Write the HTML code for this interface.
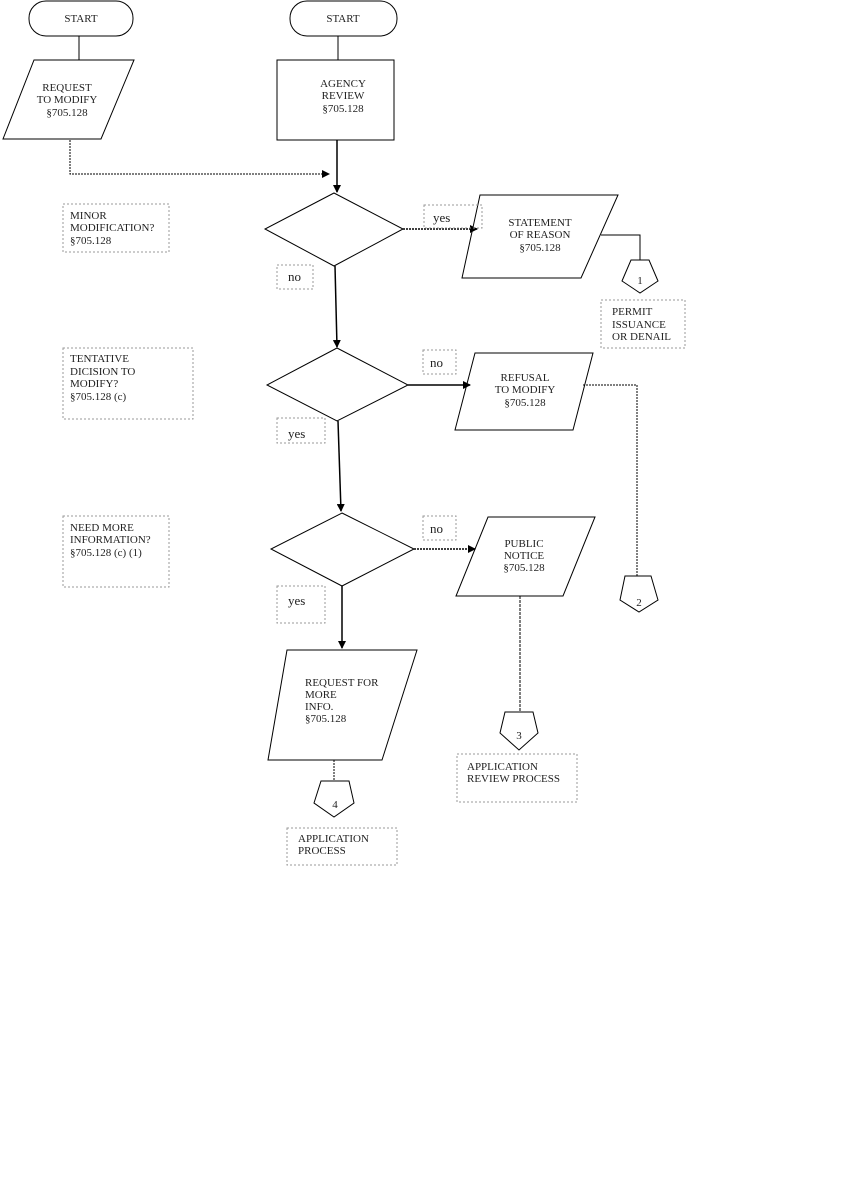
<!DOCTYPE html>
<html><head><meta charset="utf-8"><style>
html,body{margin:0;padding:0;background:#fff}
svg{display:block}
text{font-family:"Liberation Serif",serif;font-size:11px;fill:#222}
.b{font-size:13px}
</style></head><body>
<svg width="853" height="1190" viewBox="0 0 853 1190">
<defs><marker id="a" markerWidth="8" markerHeight="8" refX="7" refY="4" orient="auto" markerUnits="userSpaceOnUse"><path d="M0,0 L8,4 L0,8 z" fill="#000"/></marker></defs>
<g fill="none" stroke="#000" stroke-width="1">
<rect x="29" y="1" width="104" height="35" rx="17"/>
<rect x="290" y="1" width="107" height="35" rx="17"/>
<line x1="79" y1="36" x2="79" y2="60"/>
<line x1="338" y1="36" x2="338" y2="60"/>
<polygon points="34,60 134,60 101,139 3,139"/>
<rect x="277" y="60" width="117" height="80"/>
<polyline points="70,140 70,174 329,174" stroke-dasharray="2,1" marker-end="url(#a)"/>
<line x1="337" y1="140" x2="337" y2="192" stroke-width="1.5" marker-end="url(#a)"/>
<polygon points="334,193 403,229 334,266 265,229"/>
<line x1="403" y1="229" x2="477" y2="229" stroke-width="1.5" stroke-dasharray="2,1" marker-end="url(#a)"/>
<polygon points="480,195 618,195 581,278 462,278"/>
<polyline points="601,235 640,235 640,260"/>
<polygon points="631,260 649,260 658,281 640,293 622,281"/>
<line x1="335" y1="266" x2="337" y2="347" stroke-width="1.5" marker-end="url(#a)"/>
<polygon points="337,348 408,385 337,421 267,385"/>
<line x1="408" y1="385" x2="470" y2="385" stroke-width="1.5" marker-end="url(#a)"/>
<polygon points="475,353 593,353 573,430 455,430"/>
<polyline points="583,385 637,385 637,576" stroke-dasharray="2,1"/>
<polygon points="625,576 651,576 658,600 639,612 620,600"/>
<line x1="338" y1="421" x2="341" y2="511" stroke-width="1.5" marker-end="url(#a)"/>
<polygon points="342,513 414,549 342,586 271,549"/>
<line x1="414" y1="549" x2="475" y2="549" stroke-width="1.5" stroke-dasharray="2,1" marker-end="url(#a)"/>
<polygon points="488,517 595,517 563,596 456,596"/>
<line x1="520" y1="596" x2="520" y2="712" stroke-dasharray="3,1"/>
<polygon points="505,712 533,712 538,733 519,750 500,733"/>
<line x1="342" y1="586" x2="342" y2="648" stroke-width="1.5" marker-end="url(#a)"/>
<polygon points="287,650 417,650 382,760 268,760"/>
<line x1="334" y1="760" x2="334" y2="781" stroke-dasharray="2,1"/>
<polygon points="321,781 349,781 354,803 334,817 314,803"/>
</g>
<g fill="none" stroke="#999" stroke-width="1" stroke-dasharray="2,2">
<rect x="63" y="204" width="106" height="48"/>
<rect x="277" y="265" width="36" height="24"/>
<rect x="424" y="205" width="58" height="23"/>
<rect x="601" y="300" width="84" height="48"/>
<rect x="63" y="348" width="130" height="71"/>
<rect x="423" y="350" width="33" height="24"/>
<rect x="277" y="418" width="48" height="25"/>
<rect x="63" y="516" width="106" height="71"/>
<rect x="423" y="516" width="33" height="24"/>
<rect x="277" y="586" width="48" height="37"/>
<rect x="457" y="754" width="120" height="48"/>
<rect x="287" y="828" width="110" height="37"/>
</g>
<g text-anchor="middle">
<text x="81" y="22">START</text>
<text x="343" y="22">START</text>
<text x="67" y="91">REQUEST</text><text x="67" y="103">TO MODIFY</text><text x="67" y="116">§705.128</text>
<text x="343" y="87">AGENCY</text><text x="343" y="99">REVIEW</text><text x="343" y="112">§705.128</text>
<text x="540" y="226">STATEMENT</text><text x="540" y="238">OF REASON</text><text x="540" y="251">§705.128</text>
<text x="640" y="284">1</text>
<text x="525" y="381">REFUSAL</text><text x="525" y="393">TO MODIFY</text><text x="525" y="406">§705.128</text>
<text x="639" y="606">2</text>
<text x="524" y="547">PUBLIC</text><text x="524" y="559">NOTICE</text><text x="524" y="571">§705.128</text>
<text x="519" y="739">3</text>
<text x="335" y="808">4</text>
</g>
<text x="70" y="219">MINOR</text><text x="70" y="231">MODIFICATION?</text><text x="70" y="244">§705.128</text>
<text x="70" y="362">TENTATIVE</text><text x="70" y="375">DICISION TO</text><text x="70" y="387">MODIFY?</text><text x="70" y="400">§705.128 (c)</text>
<text x="70" y="531">NEED MORE</text><text x="70" y="543">INFORMATION?</text><text x="70" y="556">§705.128 (c) (1)</text>
<text x="305" y="686">REQUEST FOR</text><text x="305" y="698">MORE</text><text x="305" y="710">INFO.</text><text x="305" y="722">§705.128</text>
<text x="612" y="315">PERMIT</text><text x="612" y="328">ISSUANCE</text><text x="612" y="340">OR DENAIL</text>
<text x="467" y="770">APPLICATION</text><text x="467" y="782">REVIEW PROCESS</text>
<text x="298" y="842">APPLICATION</text><text x="298" y="854">PROCESS</text>
<text class="b" x="288" y="281">no</text>
<text class="b" x="433" y="222">yes</text>
<text class="b" x="430" y="367">no</text>
<text class="b" x="288" y="438">yes</text>
<text class="b" x="430" y="533">no</text>
<text class="b" x="288" y="605">yes</text>
</svg>
</body></html>
